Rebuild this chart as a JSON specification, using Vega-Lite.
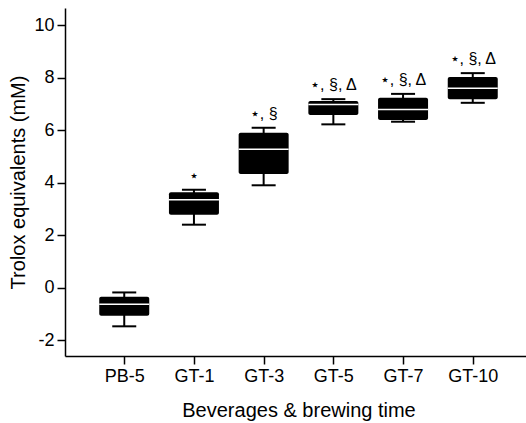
{
  "$schema": "https://vega.github.io/schema/vega-lite/v6.json",
  "width": 467,
  "height": 348,
  "autosize": {"type": "none"},
  "padding": {"left": 65, "top": 8, "right": 0, "bottom": 67},
  "background": "white",
  "config": {
    "view": {"stroke": null},
    "font": "Liberation Sans",
    "axis": {"grid": false, "domainColor": "black", "domainWidth": 1.5, "tickColor": "black", "tickWidth": 1.5, "tickSize": 8, "labelColor": "black", "titleColor": "black", "labelFont": "Liberation Sans", "titleFont": "Liberation Sans", "titleFontWeight": "normal"}
  },
  "data": {"values": [
    {"group": "PB-5", "min": -1.47, "q1": -1.07, "median": -0.63, "q3": -0.34, "max": -0.18, "label": ""},
    {"group": "GT-1", "min": 2.40, "q1": 2.78, "median": 3.35, "q3": 3.63, "max": 3.73, "label": "⋆"},
    {"group": "GT-3", "min": 3.90, "q1": 4.33, "median": 5.27, "q3": 5.90, "max": 6.09, "label": "⋆, §"},
    {"group": "GT-5", "min": 6.22, "q1": 6.58, "median": 6.98, "q3": 7.11, "max": 7.18, "label": "⋆, §, Δ"},
    {"group": "GT-7", "min": 6.32, "q1": 6.39, "median": 6.79, "q3": 7.23, "max": 7.38, "label": "⋆, §, Δ"},
    {"group": "GT-10", "min": 7.04, "q1": 7.18, "median": 7.59, "q3": 8.02, "max": 8.17, "label": "⋆, §, Δ"}
  ]},
  "encoding": {
    "x": {"field": "group", "type": "nominal", "sort": null,
      "scale": {"type": "point", "padding": 0.85},
      "axis": {"title": "Beverages & brewing time", "labelAngle": 0, "labelFontSize": 18, "titleFontSize": 20, "labelPadding": 3, "titlePadding": 15}}
  },
  "layer": [
    {"mark": {"type": "rule", "color": "black", "strokeWidth": 2},
     "encoding": {
       "y": {"field": "min", "type": "quantitative",
         "scale": {"domain": [-2.6, 10.65], "nice": false, "zero": false},
         "axis": {"title": "Trolox equivalents (mM)", "values": [-2, 0, 2, 4, 6, 8, 10], "labelExpr": "replace(datum.label, '−', '-')", "labelFontSize": 18, "titleFontSize": 20, "labelPadding": 3, "titlePadding": 5}},
       "y2": {"field": "max"}}},
    {"mark": {"type": "tick", "color": "black", "size": 24, "thickness": 2, "opacity": 1},
     "encoding": {"y": {"field": "min", "type": "quantitative"}}},
    {"mark": {"type": "tick", "color": "black", "size": 24, "thickness": 2, "opacity": 1},
     "encoding": {"y": {"field": "max", "type": "quantitative"}}},
    {"mark": {"type": "bar", "color": "black", "size": 50, "cornerRadius": 2},
     "encoding": {"y": {"field": "q1", "type": "quantitative"}, "y2": {"field": "q3"}}},
    {"mark": {"type": "tick", "color": "white", "size": 50, "thickness": 1.5, "opacity": 1},
     "encoding": {"y": {"field": "median", "type": "quantitative"}}},
    {"mark": {"type": "text", "baseline": "bottom", "dy": -6, "fontSize": 16, "color": "black"},
     "encoding": {"y": {"field": "max", "type": "quantitative"}, "text": {"field": "label"}}}
  ]
}
